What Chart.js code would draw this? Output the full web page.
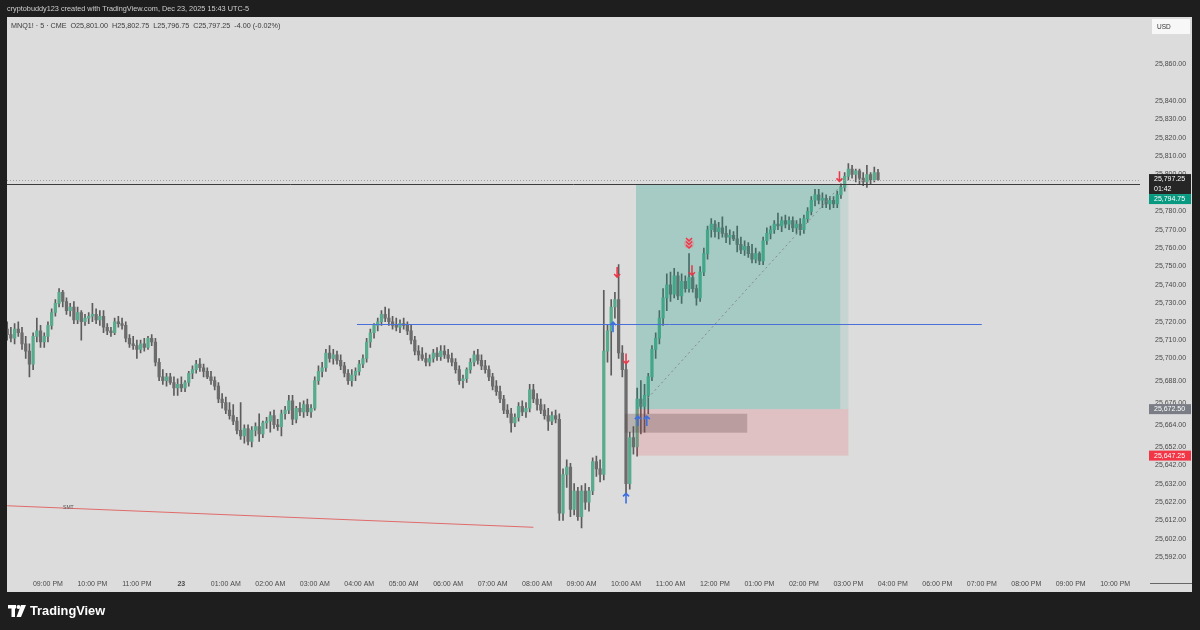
<!DOCTYPE html>
<html>
<head>
<meta charset="utf-8">
<title>MNQ1! 5m</title>
<script src="https://cdn.jsdelivr.net/npm/chart.js@4.4.1/dist/chart.umd.min.js"></script>
<style>
  html, body { margin: 0; padding: 0; background: #1e1e1e; }
</style>
</head>
<body>
<canvas id="myChart" width="1200" height="630"></canvas>
<script>
// 5 minute candles, bar 0 = 20:05 (Dec 22), last bar = 15:40 (Dec 23)
const opens = [
  25716,25713,25711,25716,25714,25708,25704,25697,25712,25715,25709,25712,25718,25725,25730,25736,25731,25726,25728,25721,
  25725,25720,25722,25723,25724,25721,25723,25717,25715,25714,25720,25719,25718,25711,25708,25707,25705,25708,25706,25711,
  25709,25698,25690,25688,25690,25687,25684,25686,25684,25687,25692,25694,25697,25695,25693,25690,25688,25685,25678,25676,
  25672,25669,25666,25661,25658,25662,25655,25661,25663,25659,25665,25666,25669,25664,25663,25670,25672,25677,25667,25673,
  25671,25675,25671,25673,25688,25693,25695,25703,25700,25702,25699,25696,25692,25688,25691,25693,25697,25700,25709,25714,
  25718,25720,25724,25722,25720,25718,25717,25719,25718,25715,25710,25704,25702,25700,25698,25700,25703,25701,25704,25702,
  25700,25698,25694,25688,25689,25694,25698,25702,25699,25696,25694,25690,25685,25682,25678,25672,25670,25665,25668,25674,
  25671,25673,25683,25678,25675,25672,25669,25666,25669,25667,25616,25637,25641,25618,25628,25614,25628,25622,25628,25644,
  25640,25637,25704,25715,25728,25732,25703,25694,25632,25657,25652,25678,25674,25680,25690,25705,25711,25722,25733,25740,
  25735,25745,25734,25742,25738,25744,25738,25733,25747,25757,25770,25773,25769,25771,25768,25766,25767,25765,25762,25759,
  25761,25757,25754,25757,25753,25764,25768,25770,25773,25772,25775,25773,25775,25771,25773,25770,25776,25780,25786,25789,
  25786,25787,25784,25786,25784,25789,25793,25799,25803,25800,25802,25798,25796,25800,25797,25801
]
const highs = [
  25720,25717,25719,25720,25717,25712,25708,25714,25722,25718,25714,25720,25727,25732,25738,25737,25733,25730,25731,25728,
  25726,25724,25725,25730,25727,25726,25726,25719,25717,25722,25723,25722,25720,25713,25712,25710,25710,25711,25712,25713,
  25711,25700,25694,25692,25692,25690,25689,25690,25688,25693,25696,25699,25700,25697,25695,25693,25690,25687,25681,25679,
  25676,25675,25668,25676,25664,25664,25663,25665,25670,25666,25668,25671,25672,25667,25672,25674,25680,25680,25674,25676,
  25677,25678,25675,25690,25696,25698,25705,25707,25705,25704,25702,25698,25694,25694,25695,25699,25702,25711,25716,25719,
  25722,25726,25728,25727,25723,25722,25721,25722,25720,25718,25712,25707,25706,25703,25702,25705,25706,25707,25707,25705,
  25703,25700,25696,25691,25695,25700,25704,25705,25702,25699,25696,25692,25688,25685,25680,25675,25673,25670,25676,25677,
  25676,25686,25686,25681,25678,25675,25673,25671,25672,25670,25640,25645,25643,25632,25630,25631,25632,25630,25646,25647,
  25645,25737,25718,25732,25736,25751,25707,25697,25660,25663,25684,25688,25686,25692,25707,25714,25726,25738,25746,25747,
  25749,25747,25746,25745,25757,25746,25740,25750,25760,25772,25776,25775,25774,25777,25772,25770,25769,25772,25766,25764,
  25763,25762,25760,25758,25766,25771,25772,25775,25779,25777,25778,25777,25777,25775,25776,25778,25782,25788,25792,25792,
  25790,25789,25788,25788,25791,25795,25801,25806,25805,25803,25803,25801,25805,25801,25804,25802.75
]
const lows = [
  25710,25709,25708,25712,25705,25700,25690,25694,25709,25706,25706,25709,25716,25723,25728,25728,25724,25723,25719,25719,
  25710,25718,25719,25720,25719,25718,25714,25713,25712,25713,25717,25716,25709,25706,25705,25700,25703,25704,25705,25707,
  25696,25688,25686,25685,25686,25680,25680,25682,25682,25685,25689,25692,25693,25690,25689,25686,25683,25676,25673,25670,
  25667,25664,25659,25656,25654,25653,25652,25658,25655,25657,25662,25660,25662,25661,25658,25667,25670,25664,25665,25669,
  25668,25669,25668,25672,25686,25690,25693,25698,25697,25697,25694,25690,25686,25685,25688,25691,25695,25698,25706,25711,
  25715,25718,25720,25718,25716,25715,25714,25716,25713,25708,25702,25699,25699,25696,25696,25698,25699,25699,25700,25698,
  25696,25692,25686,25684,25687,25692,25696,25697,25694,25692,25688,25683,25680,25676,25670,25668,25660,25663,25666,25669,
  25668,25671,25676,25672,25670,25667,25661,25664,25665,25612,25612,25630,25614,25615,25612,25608,25618,25617,25626,25636,
  25633,25634,25698,25691,25722,25700,25690,25626,25629,25648,25647,25659,25660,25670,25688,25700,25708,25718,25726,25731,
  25733,25732,25730,25736,25736,25736,25729,25731,25745,25754,25766,25766,25765,25766,25763,25762,25764,25758,25757,25756,
  25755,25752,25752,25751,25751,25762,25765,25768,25770,25769,25771,25770,25769,25768,25767,25768,25774,25778,25783,25784,
  25782,25782,25781,25782,25782,25787,25791,25797,25798,25796,25795,25794,25793,25795,25796,25796.75
]
const closes = [
  25713,25711,25716,25714,25708,25704,25697,25712,25715,25709,25712,25718,25725,25730,25736,25731,25726,25728,25721,25725,
  25720,25722,25723,25724,25721,25723,25717,25715,25714,25720,25719,25718,25711,25708,25707,25705,25708,25706,25711,25709,
  25698,25690,25688,25690,25687,25684,25686,25684,25687,25692,25694,25697,25695,25693,25690,25688,25685,25678,25676,25672,
  25669,25666,25661,25658,25662,25655,25661,25663,25659,25665,25666,25669,25664,25663,25670,25672,25677,25667,25673,25671,
  25675,25671,25673,25688,25693,25695,25703,25700,25702,25699,25696,25692,25688,25691,25693,25697,25700,25709,25714,25718,
  25720,25724,25722,25720,25718,25717,25719,25718,25715,25710,25704,25702,25700,25698,25700,25703,25701,25704,25702,25700,
  25698,25694,25688,25689,25694,25698,25702,25699,25696,25694,25690,25685,25682,25678,25672,25670,25665,25668,25674,25671,
  25673,25683,25678,25675,25672,25669,25666,25669,25667,25616,25637,25641,25618,25628,25614,25628,25622,25628,25644,25640,
  25637,25704,25715,25728,25732,25703,25694,25632,25657,25652,25678,25674,25680,25690,25705,25711,25722,25733,25740,25735,
  25745,25734,25742,25738,25744,25738,25733,25747,25757,25770,25773,25769,25771,25768,25766,25767,25765,25762,25759,25761,
  25757,25754,25757,25753,25764,25768,25770,25773,25772,25775,25773,25775,25771,25773,25770,25776,25780,25786,25789,25786,
  25787,25784,25786,25784,25789,25793,25799,25803,25800,25802,25798,25796,25800,25797,25801,25797.25
]

// time axis (bar index of each hour) and labels
const timeTicks = [11,23,35,47,59,71,83,95,107,119,131,143,155,167,179,191,203,215,227,239,251,263,275,287,299]
const timeLabels = ['09:00 PM','10:00 PM','11:00 PM','23','01:00 AM','02:00 AM','03:00 AM','04:00 AM','05:00 AM','06:00 AM',
  '07:00 AM','08:00 AM','09:00 AM','10:00 AM','11:00 AM','12:00 PM','01:00 PM','02:00 PM','03:00 PM','04:00 PM',
  '06:00 PM','07:00 PM','08:00 PM','09:00 PM','10:00 PM']
const priceTicks = [25860,25840,25830,25820,25810,25800,25780,25770,25760,25750,25740,25730,25720,25710,25700,
  25688,25676,25664,25652,25642,25632,25622,25612,25602,25592]

// drawings
const tpPrice = 25794.75
const entryPrice = 25672.50
const slPrice = 25647.25
const posStart = 169.7, posHit = 224.8, posEnd = 227
const grayBox = [166.7, 199.7, 25670, 25659.7]   // x0, x1, top, bottom
const blueLevel = 25719
const blueFrom = 94.4, blueTo = 263
const smtX = [0, 142]
const smtY = [25620, 25608.3]
const downArrows = [[164.6, 25747], [167, 25700], [184.8, 25748], [224.6, 25799]]
const upArrows = [[163.5, 25717], [167, 25624], [170.2, 25666], [172.6, 25666]]
const tripleArrow = [184, 25763]

const F = "'Liberation Sans', Arial, sans-serif"
const upColor = '#58ab8d'
const downColor = '#6c6c6c'
const wickColor = '#5c5c5c'

const fmt = v => v.toLocaleString('en-US', {minimumFractionDigits: 2, maximumFractionDigits: 2})

const bodies = opens.map((o, i) => ({x: i, y: [o, closes[i]]}))
const wicks = lows.map((l, i) => ({x: i, y: [l, highs[i]]}))
const bodyColors = opens.map((o, i) => closes[i] >= o ? upColor : downColor)

function arrow(ctx, x, y, dir, color) {
  // dir 1 = down, -1 = up
  ctx.strokeStyle = color
  ctx.lineWidth = 1.6
  ctx.beginPath()
  ctx.moveTo(x, y - 5 * dir)
  ctx.lineTo(x, y + 5 * dir)
  ctx.moveTo(x - 3, y + 2 * dir)
  ctx.lineTo(x, y + 5 * dir)
  ctx.lineTo(x + 3, y + 2 * dir)
  ctx.stroke()
}

const tvDrawings = {
  id: 'tvDrawings',
  beforeDraw(chart) {
    const ctx = chart.ctx
    ctx.save()
    ctx.fillStyle = '#1e1e1e'
    ctx.fillRect(0, 0, 1200, 630)
    ctx.fillStyle = '#dcdcdc'
    ctx.fillRect(7, 17, 1185, 575)
    ctx.restore()
  },
  afterDatasetsDraw(chart) {
    const ctx = chart.ctx, a = chart.chartArea
    const X = v => chart.scales.x.getPixelForValue(v)
    const Y = v => chart.scales.y.getPixelForValue(v)
    ctx.save()
    ctx.beginPath()
    ctx.rect(a.left, a.top, a.right - a.left, a.bottom - a.top)
    ctx.clip()

    // long position tool
    ctx.fillStyle = 'rgba(8,153,129,0.26)'
    ctx.fillRect(X(posStart), Y(tpPrice), X(posHit) - X(posStart), Y(entryPrice) - Y(tpPrice))
    ctx.fillStyle = 'rgba(8,153,129,0.10)'
    ctx.fillRect(X(posHit), Y(tpPrice), X(posEnd) - X(posHit), Y(entryPrice) - Y(tpPrice))
    ctx.fillStyle = 'rgba(242,54,69,0.16)'
    ctx.fillRect(X(posStart), Y(entryPrice), X(posEnd) - X(posStart), Y(slPrice) - Y(entryPrice))
    ctx.fillStyle = 'rgba(90,70,70,0.28)'
    ctx.fillRect(X(grayBox[0]), Y(grayBox[2]), X(grayBox[1]) - X(grayBox[0]), Y(grayBox[3]) - Y(grayBox[2]))

    ctx.strokeStyle = '#8a8a8a'
    ctx.lineWidth = 1
    ctx.setLineDash([2, 3])
    ctx.beginPath()
    ctx.moveTo(X(posStart + 0.5), Y(entryPrice))
    ctx.lineTo(X(posHit + 0.5), Y(tpPrice))
    ctx.stroke()

    // current price dotted line
    const lastY = Math.round(Y(closes[closes.length - 1])) + 0.5
    ctx.strokeStyle = '#a0a0a0'
    ctx.setLineDash([1, 2])
    ctx.beginPath()
    ctx.moveTo(a.left, lastY)
    ctx.lineTo(a.right, lastY)
    ctx.stroke()
    ctx.setLineDash([])

    // horizontal line at target
    ctx.strokeStyle = '#3c3c3c'
    ctx.beginPath()
    ctx.moveTo(a.left, Math.round(Y(tpPrice)) + 0.5)
    ctx.lineTo(a.right, Math.round(Y(tpPrice)) + 0.5)
    ctx.stroke()

    // blue level
    ctx.strokeStyle = '#4a6fd8'
    ctx.beginPath()
    ctx.moveTo(X(blueFrom), Math.round(Y(blueLevel)) + 0.5)
    ctx.lineTo(X(blueTo), Math.round(Y(blueLevel)) + 0.5)
    ctx.stroke()

    // SMT line
    ctx.strokeStyle = '#e06a6a'
    ctx.beginPath()
    ctx.moveTo(X(smtX[0]), Y(smtY[0]))
    ctx.lineTo(X(smtX[1]), Y(smtY[1]))
    ctx.stroke()
    ctx.fillStyle = '#555'
    ctx.font = '5px ' + F
    ctx.textAlign = 'center'
    ctx.textBaseline = 'bottom'
    ctx.fillText('SMT', X(16.5), Y(25620) + 4)

    // signal arrows
    downArrows.forEach(p => arrow(ctx, X(p[0]), Y(p[1]), 1, '#e8394a'))
    upArrows.forEach(p => arrow(ctx, X(p[0]), Y(p[1]), -1, '#3d6fe0'))
    const tx = X(tripleArrow[0]), ty = Y(tripleArrow[1])
    ctx.fillStyle = 'rgba(240,120,130,0.45)'
    ctx.beginPath()
    ctx.arc(tx, ty + 1, 5, 0, Math.PI * 2)
    ctx.fill()
    ctx.strokeStyle = '#e8394a'
    ctx.lineWidth = 1.4
    for (let k = -1; k <= 1; k++) {
      ctx.beginPath()
      ctx.moveTo(tx - 3, ty + k * 3.5 - 1)
      ctx.lineTo(tx, ty + k * 3.5 + 2)
      ctx.lineTo(tx + 3, ty + k * 3.5 - 1)
      ctx.stroke()
    }
    ctx.restore()
  },
  afterDraw(chart) {
    const ctx = chart.ctx
    const Y = v => chart.scales.y.getPixelForValue(v)
    const last = closes[closes.length - 1]
    ctx.save()

    // price scale labels
    const tag = (top, h, bg, lines) => {
      ctx.fillStyle = bg
      ctx.fillRect(1149, top, 42, h)
      ctx.fillStyle = '#ffffff'
      ctx.font = '7px ' + F
      ctx.textAlign = 'left'
      ctx.textBaseline = 'middle'
      lines.forEach((t, k) => ctx.fillText(t, 1154, top + 5 + k * 10))
    }
    const yl = Y(last)
    tag(yl - 5.5, 20, '#262626', [fmt(last), '01:42'])
    tag(yl + 14.5, 10, '#089981', [fmt(tpPrice)])
    tag(Y(entryPrice) - 5, 10, '#7b7d86', [fmt(entryPrice)])
    tag(Y(slPrice) - 5, 10, '#f23645', [fmt(slPrice)])

    // currency box
    ctx.fillStyle = '#f7f7f7'
    ctx.fillRect(1152, 19, 38, 15)
    ctx.fillStyle = '#333'
    ctx.font = '6.5px ' + F
    ctx.fillText('USD', 1157, 27)

    ctx.strokeStyle = '#666'
    ctx.lineWidth = 1
    ctx.beginPath()
    ctx.moveTo(1150, 583.5)
    ctx.lineTo(1192, 583.5)
    ctx.stroke()

    // header + legend
    ctx.fillStyle = '#cfcfcf'
    ctx.font = '7.3px ' + F
    ctx.fillText('cryptobuddy123 created with TradingView.com, Dec 23, 2025 15:43 UTC-5', 7, 9)
    ctx.fillStyle = '#3a3a3a'
    ctx.font = '7.2px ' + F
    ctx.fillText('MNQ1! \u00b7 5 \u00b7 CME  O25,801.00  H25,802.75  L25,796.75  C25,797.25  -4.00 (-0.02%)', 11, 26)

    // logo
    ctx.fillStyle = '#ffffff'
    ctx.fillRect(8, 605, 8, 3.5)
    ctx.fillRect(11.5, 605, 3.5, 12)
    ctx.beginPath()
    ctx.arc(18.5, 607, 2, 0, Math.PI * 2)
    ctx.fill()
    ctx.beginPath()
    ctx.moveTo(21, 605)
    ctx.lineTo(26, 605)
    ctx.lineTo(21, 617)
    ctx.lineTo(16.5, 617)
    ctx.closePath()
    ctx.fill()
    ctx.font = '600 12.8px ' + F
    ctx.textBaseline = 'middle'
    ctx.fillText('TradingView', 30, 611.5)
    ctx.restore()
  }
}

new Chart('myChart', {
  type: 'bar',
  data: {
    datasets: [{
      data: bodies,
      backgroundColor: bodyColors,
      barThickness: 2.6,
      grouped: false
    }, {
      data: wicks,
      backgroundColor: wickColor,
      barThickness: 1,
      grouped: false
    }]
  },
  options: {
    responsive: false,
    animation: false,
    devicePixelRatio: 1,
    layout: {padding: {left: 7, top: 17, right: 0, bottom: 38}},
    plugins: {legend: {display: false}, tooltip: {enabled: false}, title: {display: false}},
    scales: {
      x: {
        type: 'linear',
        offset: false,
        min: -0.05,
        max: 305.7,
        grid: {display: false, drawTicks: false},
        border: {display: false},
        afterFit: s => { s.height = 20 },
        afterBuildTicks: s => { s.ticks = timeTicks.map(v => ({value: v})) },
        ticks: {
          autoSkip: false,
          maxRotation: 0,
          minRotation: 0,
          padding: 8,
          color: '#4a4a4a',
          font: c => ({size: 7, family: F, weight: c.tick && c.tick.value === 47 ? 'bold' : 'normal'}),
          callback: v => timeLabels[timeTicks.indexOf(v)]
        }
      },
      y: {
        type: 'linear',
        position: 'right',
        min: 25584,
        max: 25884.4,
        grid: {display: false, drawTicks: false},
        border: {display: false},
        afterFit: s => { s.width = 60 },
        afterBuildTicks: s => { s.ticks = priceTicks.map(v => ({value: v})) },
        ticks: {
          autoSkip: false,
          crossAlign: 'near',
          padding: 15,
          color: '#4a4a4a',
          font: {size: 7, family: F},
          callback: v => fmt(v)
        }
      }
    }
  },
  plugins: [tvDrawings]
})
</script>
</body>
</html>
